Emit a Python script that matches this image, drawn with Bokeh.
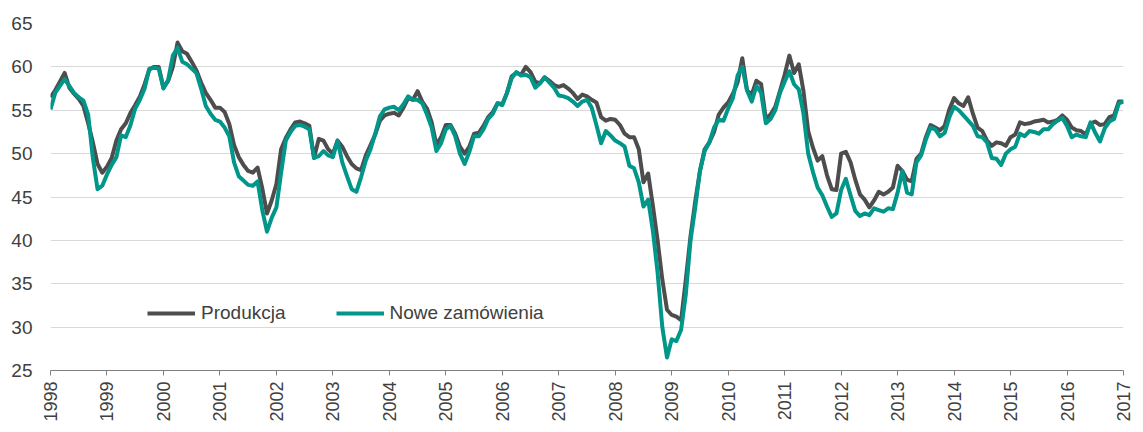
import math
from bokeh.plotting import figure
from bokeh.models import FixedTicker, Legend, LegendItem
from bokeh.embed import file_html
from bokeh.resources import INLINE

start_year = 1998
year_ticks = list(range(1998, 2018))
y_ticks = [25, 30, 35, 40, 45, 50, 55, 60, 65]

produkcja = [
    56.5, 57.3, 58.3, 59.3, 57.6, 56.9, 56.3, 55.5, 53.5, 51.3, 48.8, 47.8,  # 1998
    48.5, 49.5, 51.5, 52.8, 53.5, 54.7, 55.6, 56.6, 58.0, 59.7, 60.0, 60.0,  # 1999
    57.6, 58.4, 60.0, 62.8, 61.8, 61.5, 60.6, 59.6, 58.2, 57.0, 56.2, 55.3,  # 2000
    55.3, 54.8, 53.4, 51.0, 49.6, 48.7, 48.0, 47.8, 48.4, 46.0, 43.1, 44.6,  # 2001
    46.5, 50.5, 51.8, 52.8, 53.6, 53.7, 53.5, 53.2, 49.5, 51.7, 51.5, 50.5,  # 2002
    50.0, 51.5, 50.8, 49.7, 48.8, 48.3, 48.1, 49.8, 51.0, 52.2, 53.8, 54.4,  # 2003
    54.6, 54.7, 54.4, 55.3, 56.4, 56.2, 57.2, 56.0, 55.2, 53.6, 51.0, 51.9,  # 2004
    53.3, 53.3, 52.3, 50.8, 50.0, 50.8, 52.3, 52.4, 53.2, 54.2, 54.8, 55.8,  # 2005
    55.7, 57.0, 58.9, 59.3, 59.1, 60.0, 59.4, 58.3, 58.1, 58.8, 58.4, 57.9,  # 2006
    57.7, 57.9, 57.5, 57.0, 56.3, 56.8, 56.6, 56.2, 55.9, 54.2, 53.8, 54.0,  # 2007
    53.9, 53.3, 52.3, 51.9, 51.9, 50.5, 46.7, 47.7, 44.0, 40.0, 35.5, 32.0,  # 2008
    31.4, 31.2, 30.8, 35.5, 40.5, 44.5, 48.0, 50.5, 51.3, 52.5, 54.5, 55.3,  # 2009
    55.9, 56.9, 58.2, 61.0, 57.3, 56.8, 58.4, 58.0, 54.0, 54.5, 55.4, 57.2,  # 2010
    59.1, 61.3, 59.3, 60.3, 57.2, 52.6, 50.7, 49.2, 49.7, 47.5, 45.9, 45.8,  # 2011
    50.0, 50.2, 49.0, 47.0, 45.3, 44.7, 43.8, 44.6, 45.6, 45.3, 45.6, 46.1,  # 2012
    48.6, 48.0, 47.0, 46.8, 49.4, 50.0, 51.9, 53.3, 53.0, 52.7, 53.2, 55.1,  # 2013
    56.4, 55.8, 55.5, 56.5, 54.6, 53.0, 52.6, 51.5, 50.9, 51.3, 51.2, 50.9,  # 2014
    51.9, 52.2, 53.6, 53.4, 53.5, 53.7, 53.8, 53.9, 53.6, 53.7, 53.9, 54.4,  # 2015
    53.9, 53.0, 52.7, 52.6, 52.2, 53.5, 53.7, 53.3, 53.4, 54.2, 54.4, 56.0,  # 2016
    56.0,                                                                    # 2017
]

nowe_zamowienia = [
    55.1, 57.0, 57.8, 58.6, 57.8, 57.0, 56.5, 56.1, 54.5, 49.5, 45.9, 46.3,  # 1998
    47.6, 48.7, 49.6, 52.1, 51.9, 53.3, 55.2, 56.2, 57.5, 59.8, 59.9, 59.8,  # 1999
    57.5, 58.5, 61.3, 62.2, 60.6, 60.3, 59.8, 59.3, 57.5, 55.5, 54.6, 53.9,  # 2000
    53.7, 53.0, 52.0, 49.0, 47.4, 46.9, 46.4, 46.3, 46.8, 43.5, 41.0, 42.6,  # 2001
    43.8, 47.8, 51.5, 52.5, 53.2, 53.3, 53.1, 52.8, 49.5, 49.7, 50.3, 49.8,  # 2002
    49.6, 51.5, 49.0, 47.4, 45.9, 45.6, 47.3, 49.2, 50.5, 52.3, 54.3, 55.1,  # 2003
    55.3, 55.4, 55.0, 55.7, 56.6, 56.2, 56.2, 55.8, 54.5, 53.0, 50.3, 51.2,  # 2004
    52.8, 53.2, 52.0, 50.0, 48.8, 50.2, 52.0, 52.0, 52.8, 54.0, 54.6, 55.8,  # 2005
    55.6, 57.0, 58.7, 59.4, 59.0, 59.1, 58.8, 57.6, 58.1, 58.8, 58.2, 57.6,  # 2006
    56.7, 56.6, 56.4, 56.0, 55.5, 56.0, 56.2, 55.3, 53.3, 51.2, 52.6, 52.1,  # 2007
    51.5, 51.2, 50.8, 48.6, 48.3, 46.7, 43.9, 44.7, 41.1, 36.3, 30.0, 26.5,  # 2008
    28.6, 28.4, 29.7, 33.8, 40.0, 43.8, 48.0, 50.3, 51.3, 53.0, 53.9, 53.8,  # 2009
    55.2, 56.4, 59.0, 60.0, 57.3, 56.0, 57.8, 57.0, 53.5, 54.0, 55.0, 57.0,  # 2010
    58.3, 59.5, 58.0, 57.4, 54.6, 50.0, 47.9, 46.1, 45.2, 43.9, 42.7, 43.1,  # 2011
    45.8, 47.1, 45.2, 43.4, 42.8, 43.1, 42.9, 43.7, 43.5, 43.3, 43.7, 43.6,  # 2012
    45.5, 48.0, 45.5, 45.3, 49.0, 49.8, 51.6, 53.0, 52.8, 52.0, 52.4, 54.2,  # 2013
    55.4, 55.0, 54.4, 53.8, 53.2, 52.0, 51.9, 51.3, 49.5, 49.4, 48.7, 50.0,  # 2014
    50.5, 50.8, 52.3, 52.0, 52.6, 52.5, 52.3, 52.8, 52.8, 53.4, 53.8, 54.1,  # 2015
    53.2, 51.9, 52.2, 52.0, 51.9, 53.6, 52.4, 51.4, 52.9, 53.7, 54.0, 55.8,  # 2016
    56.0,                                                                    # 2017
]

x = [start_year + i / 12 for i in range(len(produkcja))]

FONT = "Liberation Sans"
TEXT = "#404040"

p = figure(width=1135, height=424, x_range=(1998, 2017), y_range=(25, 65),
           output_backend="svg", toolbar_location=None,
           min_border_left=50, min_border_right=12, min_border_top=23,
           min_border_bottom=51)
p.outline_line_color = None
p.background_fill_color = "white"
p.border_fill_color = "white"

p.xgrid.visible = False
p.ygrid.ticker = FixedTicker(ticks=y_ticks)
p.ygrid.grid_line_color = "#D9D9D9"
p.ygrid.grid_line_width = 1

p.xaxis.ticker = FixedTicker(ticks=year_ticks)
p.xaxis.major_label_orientation = math.pi / 2
p.xaxis.major_tick_out = 5
p.xaxis.major_tick_in = 0
p.xaxis.minor_tick_line_color = None
p.xaxis.axis_line_color = "#808080"
p.xaxis.major_tick_line_color = "#808080"
p.xaxis.major_label_standoff = 6
p.xaxis.major_label_text_font = FONT
p.xaxis.major_label_text_font_size = "18px"
p.xaxis.major_label_text_color = TEXT

p.yaxis.ticker = FixedTicker(ticks=y_ticks)
p.yaxis.axis_line_color = None
p.yaxis.major_tick_line_color = None
p.yaxis.major_tick_out = 0
p.yaxis.major_tick_in = 0
p.yaxis.minor_tick_line_color = None
p.yaxis.major_label_standoff = 18
p.yaxis.major_label_text_font = FONT
p.yaxis.major_label_text_font_size = "19px"
p.yaxis.major_label_text_color = TEXT

r1 = p.line(x, produkcja, line_color="#4D4D4D", line_width=4, line_join="round")
r2 = p.line(x, nowe_zamowienia, line_color="#00968A", line_width=4, line_join="round")

legend = Legend(items=[LegendItem(label="Produkcja", renderers=[r1]),
                       LegendItem(label="Nowe zamówienia", renderers=[r2])],
                location=(97, 46), orientation="horizontal",
                glyph_width=48, glyph_height=20, label_standoff=6, spacing=50,
                padding=0, margin=0, border_line_color=None,
                background_fill_alpha=0,
                label_text_font=FONT, label_text_font_size="19px",
                label_text_color=TEXT)
p.add_layout(legend)

open("out.html", "w").write(file_html(p, INLINE))
